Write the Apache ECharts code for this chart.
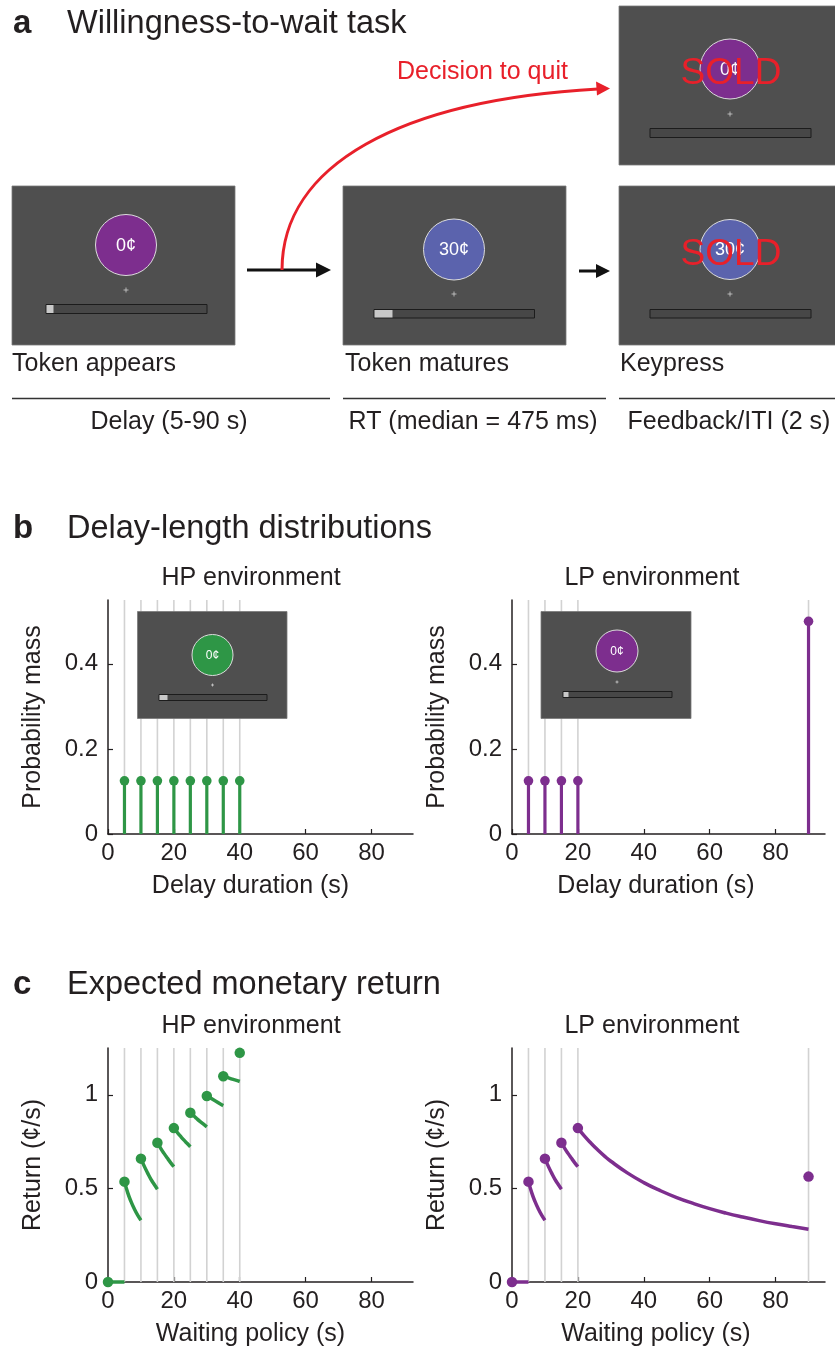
<!DOCTYPE html>
<html>
<head>
<meta charset="utf-8">
<script src="https://cdn.jsdelivr.net/npm/echarts@6/dist/echarts.min.js"></script>
<style>
html,body{margin:0;padding:0;background:#fff;}
#chart{width:835px;height:1351px;}
</style>
</head>
<body>
<div id="chart"></div>
<script>
// ---------------- data ----------------
const delaysHP = [5, 10, 15, 20, 25, 30, 35, 40];
const massHP = [0.125, 0.125, 0.125, 0.125, 0.125, 0.125, 0.125, 0.125];
const delaysLP = [5, 10, 15, 20, 90];
const massLP = [0.125, 0.125, 0.125, 0.125, 0.5];

const xTicks = [0, 20, 40, 60, 80];
const yTicksMass = [0, 0.2, 0.4];
const yTicksReturn = [0, 0.5, 1];

// expected return curves (null = break between segments)
const policyHP = [0, 5, null,
  5, 6, 7, 8, 9, 10, null,
  10, 11, 12, 13, 14, 15, null,
  15, 16, 17, 18, 19, 20, null,
  20, 21, 22, 23, 24, 25, null,
  25, 26, 27, 28, 29, 30, null,
  30, 31, 32, 33, 34, 35, null,
  35, 36, 37, 38, 39, 40];
const returnHP = [0, 0, null,
  0.536, 0.476, 0.429, 0.390, 0.357, 0.330, null,
  0.659, 0.619, 0.583, 0.550, 0.522, 0.496, null,
  0.744, 0.714, 0.687, 0.662, 0.638, 0.616, null,
  0.822, 0.800, 0.779, 0.759, 0.741, 0.723, null,
  0.904, 0.888, 0.872, 0.857, 0.843, 0.829, null,
  0.994, 0.984, 0.973, 0.963, 0.952, 0.942, null,
  1.099, 1.094, 1.088, 1.082, 1.077, 1.071];
const peakPolicyHP = [0, 5, 10, 15, 20, 25, 30, 35, 40];
const peakReturnHP = [0, 0.536, 0.659, 0.744, 0.822, 0.904, 0.994, 1.099, 1.224];

const policyLP = [0, 5, null,
  5, 6, 7, 8, 9, 10, null,
  10, 11, 12, 13, 14, 15, null,
  15, 16, 17, 18, 19, 20, null,
  20, 22, 24, 26, 28, 30, 35, 40, 45, 50, 55, 60, 65, 70, 75, 80, 85, 90];
const returnLP = [0, 0, null,
  0.536, 0.476, 0.429, 0.390, 0.357, 0.330, null,
  0.659, 0.619, 0.583, 0.550, 0.522, 0.496, null,
  0.744, 0.714, 0.687, 0.662, 0.638, 0.616, null,
  0.822, 0.779, 0.741, 0.706, 0.674, 0.645, 0.583, 0.531, 0.488, 0.451, 0.420, 0.392, 0.368, 0.347, 0.328, 0.311, 0.296, 0.282];
const peakPolicyLP = [0, 5, 10, 15, 20, 90];
const peakReturnLP = [0, 0.536, 0.659, 0.744, 0.822, 0.563];

// ---------------- style ----------------
const FF = "'Liberation Sans', Arial, Helvetica, sans-serif";
const INK = '#231f20';
const GREEN = '#2e9646';
const PURPLE = '#7d2e8e';
const BLUE = '#5b63ad';
const RED = '#e8202a';
const SCREEN = '#4f4f4f';
const GRAYLINE = '#d2d2d2';

const chart = echarts.init(document.getElementById('chart'), null, {renderer: 'canvas'});

function xAxisCfg(gi, max, name, padR) {
  return {
    type: 'value', gridIndex: gi, min: 0, max: max,
    name: name, nameLocation: 'middle', nameGap: 40,
    nameTextStyle: {fontSize: 25, color: INK, fontFamily: FF, padding: [0, padR, 0, 0]},
    axisLine: {show: true, onZero: false, lineStyle: {color: INK, width: 1.5}},
    axisTick: {show: true, inside: true, length: 5, customValues: xTicks, lineStyle: {color: INK, width: 1.2}},
    axisLabel: {show: true, customValues: xTicks, fontSize: 24, color: INK, fontFamily: FF, margin: 7},
    splitLine: {show: false}
  };
}
function yAxisCfg(gi, max, ticks, name) {
  return {
    type: 'value', gridIndex: gi, min: 0, max: max,
    name: name, nameLocation: 'middle', nameGap: 62,
    nameTextStyle: {fontSize: 25, color: INK, fontFamily: FF},
    axisLine: {show: true, onZero: false, lineStyle: {color: INK, width: 1.5}},
    axisTick: {show: true, inside: true, length: 5, customValues: ticks, lineStyle: {color: INK, width: 1.2}},
    axisLabel: {show: true, customValues: ticks, fontSize: 24, color: INK, fontFamily: FF, margin: 10},
    splitLine: {show: false}
  };
}

function grayLines(gi, delays) {
  return {
    type: 'custom', xAxisIndex: gi, yAxisIndex: gi, z: 1, silent: true, clip: false,
    data: delays.map(d => [d]),
    encode: {x: 0},
    renderItem: function (params, api) {
      const cs = params.coordSys;
      const x = api.coord([api.value(0), 0])[0];
      return {type: 'line', shape: {x1: x, y1: cs.y, x2: x, y2: cs.y + cs.height},
        style: {stroke: GRAYLINE, lineWidth: 1.6}};
    }
  };
}
function stems(gi, delays, mass, color) {
  return {
    type: 'custom', xAxisIndex: gi, yAxisIndex: gi, z: 3, silent: true, clip: false,
    data: delays.map((d, i) => [d, mass[i]]),
    encode: {x: 0, y: 1},
    renderItem: function (params, api) {
      const p0 = api.coord([api.value(0), 0]);
      const p1 = api.coord([api.value(0), api.value(1)]);
      return {type: 'group', children: [
        {type: 'line', shape: {x1: p0[0], y1: p0[1], x2: p1[0], y2: p1[1]}, style: {stroke: color, lineWidth: 3.2}},
        {type: 'circle', shape: {cx: p1[0], cy: p1[1], r: 4.8}, style: {fill: color}}
      ]};
    }
  };
}
function curveSeries(gi, xs, ys, color) {
  const out = [];
  let seg = [];
  xs.forEach((x, i) => {
    if (x === null) { if (seg.length) out.push(seg); seg = []; }
    else seg.push([x, ys[i]]);
  });
  if (seg.length) out.push(seg);
  return out.map(s => ({
    type: 'line', xAxisIndex: gi, yAxisIndex: gi, z: 3, silent: true, clip: false,
    data: s, showSymbol: false, smooth: true,
    lineStyle: {color: color, width: 3.5}
  }));
}
function peaks(gi, xs, ys, color) {
  return {
    type: 'scatter', xAxisIndex: gi, yAxisIndex: gi, z: 4, silent: true, clip: false,
    data: xs.map((x, i) => [x, ys[i]]), symbolSize: 10.5,
    itemStyle: {color: color, opacity: 1}
  };
}

// ---------------- panel a graphics ----------------
function screen(o) {
  const els = [];
  els.push({type: 'rect', shape: {x: o.x, y: o.y, width: o.w, height: o.h}, style: {fill: SCREEN, stroke: '#7a7a7a', lineWidth: 0.8}});
  els.push({type: 'circle', shape: {cx: o.cx, cy: o.cy, r: o.r}, style: {fill: o.col, stroke: '#dcdcdc', lineWidth: 1}});
  els.push({type: 'text', x: o.cx, y: o.cy + 1, style: {text: o.label, fill: '#ffffff', fontSize: o.fs, fontFamily: FF, align: 'center', verticalAlign: 'middle'}});
  els.push({type: 'line', shape: {x1: o.cx - o.ps, y1: o.py, x2: o.cx + o.ps, y2: o.py}, style: {stroke: '#cfcfcf', lineWidth: 0.8}});
  els.push({type: 'line', shape: {x1: o.cx, y1: o.py - o.ps, x2: o.cx, y2: o.py + o.ps}, style: {stroke: '#cfcfcf', lineWidth: 0.8}});
  els.push({type: 'rect', shape: {x: o.bx1, y: o.by1, width: o.bx2 - o.bx1, height: o.by2 - o.by1}, style: {fill: '#474747', stroke: '#1c1c1c', lineWidth: 1}});
  if (o.bf > 0) {
    els.push({type: 'rect', shape: {x: o.bx1 + 0.5, y: o.by1 + 0.5, width: o.bf, height: o.by2 - o.by1 - 1}, style: {fill: '#c9c9c9'}});
  }
  if (o.sold) {
    els.push({type: 'text', x: o.cx + 1, y: o.cy + 5, style: {text: 'SOLD', fill: RED, fontSize: 37, fontFamily: FF, align: 'center', verticalAlign: 'middle'}});
  }
  return els;
}
function txt(text, x, y, size, opts) {
  opts = opts || {};
  return {type: 'text', x: x, y: y, style: Object.assign({text: text, fill: INK, fontSize: size, fontFamily: FF,
    align: 'left', verticalAlign: 'middle'}, opts)};
}

let G = [];
// titles
G.push(txt('a', 13, 24, 33, {fontWeight: 'bold'}));
G.push(txt('Willingness-to-wait task', 67, 24, 32.5));
G.push(txt('b', 13, 529, 33, {fontWeight: 'bold'}));
G.push(txt('Delay-length distributions', 67, 529, 32.5));
G.push(txt('c', 13, 985, 33, {fontWeight: 'bold'}));
G.push(txt('Expected monetary return', 67, 985, 32.5));
// sub-titles
G.push(txt('HP environment', 251, 578, 25, {align: 'center'}));
G.push(txt('LP environment', 652, 578, 25, {align: 'center'}));
G.push(txt('HP environment', 251, 1026, 25, {align: 'center'}));
G.push(txt('LP environment', 652, 1026, 25, {align: 'center'}));

// screens
G = G.concat(screen({x: 12, y: 186, w: 223, h: 159, cx: 126, cy: 245, r: 30.5, col: PURPLE, label: '0¢', fs: 18,
  py: 290, ps: 2.5, bx1: 46, bx2: 207, by1: 304.5, by2: 313.5, bf: 7, sold: false}));
G = G.concat(screen({x: 343, y: 186, w: 223, h: 159, cx: 454, cy: 249.5, r: 30.5, col: BLUE, label: '30¢', fs: 18,
  py: 294, ps: 2.5, bx1: 374, bx2: 534.5, by1: 309.5, by2: 318, bf: 18, sold: false}));
G = G.concat(screen({x: 619, y: 6, w: 220, h: 159, cx: 730, cy: 69, r: 30, col: PURPLE, label: '0¢', fs: 18,
  py: 114, ps: 2.5, bx1: 650, bx2: 811, by1: 128.5, by2: 137.5, bf: 0, sold: true}));
G = G.concat(screen({x: 619, y: 186, w: 220, h: 159, cx: 730, cy: 249.5, r: 30, col: BLUE, label: '30¢', fs: 18,
  py: 294, ps: 2.5, bx1: 650, bx2: 811, by1: 309.5, by2: 318, bf: 0, sold: true}));

// arrows
G.push({type: 'line', shape: {x1: 247, y1: 270, x2: 318, y2: 270}, style: {stroke: '#111', lineWidth: 3}});
G.push({type: 'polygon', shape: {points: [[331, 270], [316, 262.5], [316, 277.5]]}, style: {fill: '#111'}});
G.push({type: 'line', shape: {x1: 579, y1: 271, x2: 598, y2: 271}, style: {stroke: '#111', lineWidth: 3}});
G.push({type: 'polygon', shape: {points: [[610, 271], [596, 264], [596, 278]]}, style: {fill: '#111'}});
G.push({type: 'bezierCurve', shape: {x1: 282, y1: 270, cpx1: 282, cpy1: 165, cpx2: 400, cpy2: 100, x2: 598, y2: 89},
  style: {stroke: RED, lineWidth: 3, fill: 'none'}});
G.push({type: 'polygon', shape: {points: [[610, 88.5], [596, 81.5], [597, 95.5]]}, style: {fill: RED}});
G.push(txt('Decision to quit', 397, 72, 25, {fill: RED}));

// labels + rules
G.push(txt('Token appears', 12, 364, 25));
G.push(txt('Token matures', 345, 364, 25));
G.push(txt('Keypress', 620, 364, 25));
G.push({type: 'line', shape: {x1: 12, y1: 398.5, x2: 330, y2: 398.5}, style: {stroke: '#333', lineWidth: 1.5}});
G.push({type: 'line', shape: {x1: 343, y1: 398.5, x2: 606, y2: 398.5}, style: {stroke: '#333', lineWidth: 1.5}});
G.push({type: 'line', shape: {x1: 619, y1: 398.5, x2: 835, y2: 398.5}, style: {stroke: '#333', lineWidth: 1.5}});
G.push(txt('Delay (5-90 s)', 169, 422, 25, {align: 'center'}));
G.push(txt('RT (median = 475 ms)', 473, 422, 25, {align: 'center'}));
G.push(txt('Feedback/ITI (2 s)', 729, 422, 25, {align: 'center'}));

// insets in panel b
G = G.concat(screen({x: 137.5, y: 611.5, w: 149.5, h: 107, cx: 212.5, cy: 655, r: 20.5, col: GREEN, label: '0¢', fs: 12,
  py: 685, ps: 1.5, bx1: 159, bx2: 267, by1: 694.5, by2: 700.5, bf: 8, sold: false}));
G = G.concat(screen({x: 541, y: 611.5, w: 150, h: 107, cx: 617, cy: 651, r: 21, col: PURPLE, label: '0¢', fs: 12,
  py: 682, ps: 1.5, bx1: 563, bx2: 672, by1: 691.5, by2: 697.5, bf: 5, sold: false}));

G.forEach(e => { e.z = 100; e.silent = true; });

const option = {
  animation: false,
  backgroundColor: '#ffffff',
  textStyle: {fontFamily: FF},
  grid: [
    {left: 108, top: 600, width: 305, height: 234},
    {left: 512, top: 600, width: 313, height: 234},
    {left: 108, top: 1048, width: 305, height: 234},
    {left: 512, top: 1048, width: 313, height: 234}
  ],
  xAxis: [
    xAxisCfg(0, 92.6, 'Delay duration (s)', 20),
    xAxisCfg(1, 95, 'Delay duration (s)', 25),
    xAxisCfg(2, 92.6, 'Waiting policy (s)', 20),
    xAxisCfg(3, 95, 'Waiting policy (s)', 25)
  ],
  yAxis: [
    yAxisCfg(0, 0.55, yTicksMass, 'Probability mass'),
    yAxisCfg(1, 0.55, yTicksMass, 'Probability mass'),
    yAxisCfg(2, 1.25, yTicksReturn, 'Return (¢/s)'),
    yAxisCfg(3, 1.25, yTicksReturn, 'Return (¢/s)')
  ],
  series: [
    grayLines(0, delaysHP),
    stems(0, delaysHP, massHP, GREEN),
    grayLines(1, delaysLP),
    stems(1, delaysLP, massLP, PURPLE),
    grayLines(2, delaysHP),
    ...curveSeries(2, policyHP, returnHP, GREEN),
    peaks(2, peakPolicyHP, peakReturnHP, GREEN),
    grayLines(3, delaysLP),
    ...curveSeries(3, policyLP, returnLP, PURPLE),
    peaks(3, peakPolicyLP, peakReturnLP, PURPLE)
  ],
  graphic: {elements: G}
};
chart.setOption(option);
</script>
</body>
</html>
